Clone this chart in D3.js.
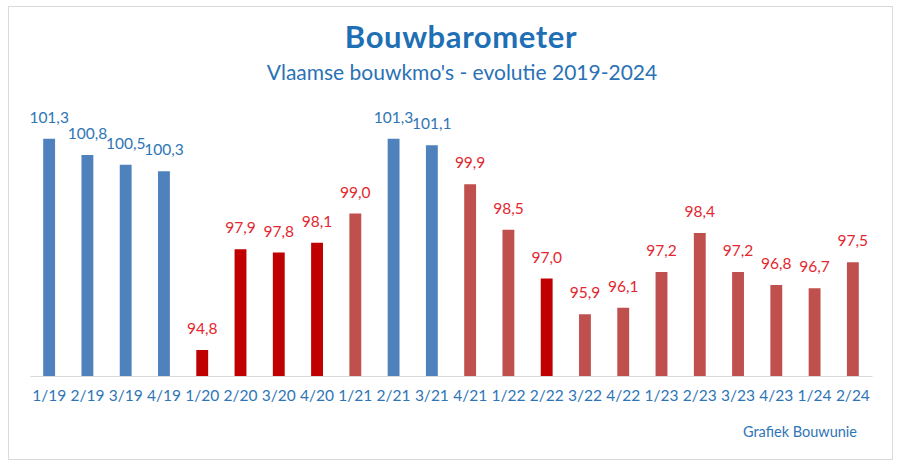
<!DOCTYPE html>
<html><head><meta charset="utf-8">
<script src="https://cdn.jsdelivr.net/npm/d3@7"></script>
<style>body{margin:0;background:#fff;} svg{display:block;}</style>
</head><body>
<svg id="c" width="900" height="469"></svg>
<script>
const categories = ["1/19","2/19","3/19","4/19","1/20","2/20","3/20","4/20","1/21","2/21","3/21","4/21","1/22","2/22","3/22","4/22","1/23","2/23","3/23","4/23","1/24","2/24"];
const values = [101.3,100.8,100.5,100.3,94.8,97.9,97.8,98.1,99.0,101.3,101.1,99.9,98.5,97.0,95.9,96.1,97.2,98.4,97.2,96.8,96.7,97.5];
const groups = ["blue","blue","blue","blue","red","red","red","red","muted","blue","blue","muted","muted","red","muted","muted","muted","muted","muted","muted","muted","muted"];
const valueLabels = values.map(v => d3.format(".1f")(v).replace(".", ","));

const barColor = {blue:"#4F81BD", red:"#C00000", muted:"#C0504D"};
const labelColor = {blue:"#2E75B6", red:"#E3262F", muted:"#E3262F"};
const font = "Lato, 'Open Sans', sans-serif";

const svg = d3.select("#c");
svg.append("rect").attr("x",8.5).attr("y",6.5).attr("width",884).attr("height",453)
  .attr("fill","#fff").attr("stroke","#d9d9d9");

const x = d3.scaleBand().domain(categories).range([30,872]).paddingInner(0.69).paddingOuter(0.345);
const y = d3.scaleLinear().domain([94,102]).range([376,116]);

svg.append("text").attr("x",461).attr("y",48).attr("text-anchor","middle")
  .attr("font-family",font).attr("font-weight","bold").attr("font-size",31).attr("letter-spacing",0.6).attr("fill","#1F6FB5")
  .text("Bouwbarometer");
svg.append("text").attr("x",462).attr("y",80).attr("text-anchor","middle")
  .attr("font-family",font).attr("font-size",21).attr("fill","#2A72B5")
  .text("Vlaamse bouwkmo's - evolutie 2019-2024");

svg.selectAll("rect.bar").data(categories).join("rect").attr("class","bar")
  .attr("x",d=>x(d)).attr("width",x.bandwidth())
  .attr("y",(d,i)=>y(values[i])).attr("height",(d,i)=>y(94)-y(values[i]))
  .attr("fill",(d,i)=>barColor[groups[i]]);

const xa = svg.append("g").attr("transform","translate(0,376)").call(d3.axisBottom(x).tickSize(0).tickPadding(14));
xa.select(".domain").attr("stroke","#d9d9d9");
xa.selectAll("text").attr("font-family",font).attr("font-size",15.5).attr("fill","#2E75B6");

svg.selectAll("text.vl").data(categories).join("text").attr("class","vl")
  .attr("x",d=>x(d)+x.bandwidth()/2).attr("y",(d,i)=>y(values[i])-16)
  .attr("text-anchor","middle").attr("font-family",font).attr("font-size",15.5)
  .attr("fill",(d,i)=>labelColor[groups[i]]).text((d,i)=>valueLabels[i]);

svg.append("text").attr("x",857).attr("y",437).attr("text-anchor","end")
  .attr("font-family",font).attr("font-size",14.5).attr("fill","#2E75B6").text("Grafiek Bouwunie");
</script>
</body></html>
